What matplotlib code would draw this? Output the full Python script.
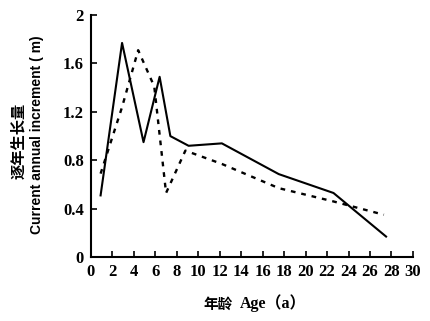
import matplotlib.pyplot as plt

# Data
age_solid = [0.9, 2.9, 4.9, 6.4, 7.4, 9.1, 12.2, 17.5, 22.6, 27.5]
inc_solid = [0.51, 1.77, 0.95, 1.49, 1.00, 0.92, 0.94, 0.686, 0.53, 0.17]

age_dash = [0.9, 2.9, 4.4, 5.9, 7.0, 8.8, 12.2, 17.5, 22.6, 27.3]
inc_dash = [0.69, 1.24, 1.71, 1.41, 0.53, 0.88, 0.77, 0.57, 0.46, 0.35]

x_ticks = list(range(0, 31, 2))
y_ticks = [0, 0.4, 0.8, 1.2, 1.6, 2.0]
y_labels = ['0', '0.4', '0.8', '1.2', '1.6', '2']

serif = ['Liberation Serif', 'Noto Sans CJK SC']
cjk = ['Noto Sans CJK SC']

fig = plt.figure(figsize=(4.31, 3.21), dpi=100)
ax = fig.add_axes([0.211, 0.199, 0.747, 0.754])

ax.plot(age_solid, inc_solid, color='black', linewidth=1.5)
ax.plot(age_dash, inc_dash, color='black', linewidth=1.7, linestyle=(0, (2, 2.5)))

ax.set_xlim(0, 30)
ax.set_ylim(0, 2)
ax.set_xticks(x_ticks)
ax.set_yticks(y_ticks)
ax.set_yticklabels(y_labels)
ax.spines['top'].set_visible(False)
ax.spines['right'].set_visible(False)
ax.spines['left'].set_linewidth(1.5)
ax.spines['bottom'].set_linewidth(1.5)
ax.tick_params(direction='in', length=4, width=1.2, labelsize=12, pad=5)
for lab in ax.get_xticklabels() + ax.get_yticklabels():
    lab.set_family(serif)
    lab.set_fontweight('bold')

# axis titles
fig.text(218 / 431, 1 - 304 / 321, '年龄', ha='center', va='center',
         fontsize=10.5, family=cjk, fontweight='bold')
fig.text(240 / 431, 1 - 303 / 321, 'Age（a）', ha='left', va='center',
         fontsize=11.5, family=serif, fontweight='bold')
fig.text(18 / 431, 1 - 141 / 321, '逐年生长量', ha='center', va='center',
         rotation=90, fontsize=11, family=cjk, fontweight='bold')
fig.text(37 / 431, 1 - 135 / 321, 'Current annual increment ( m)', ha='center',
         va='center', rotation=90, fontsize=10, family=['Liberation Sans'],
         fontweight='bold')

fig.savefig('out.png', dpi=100)
